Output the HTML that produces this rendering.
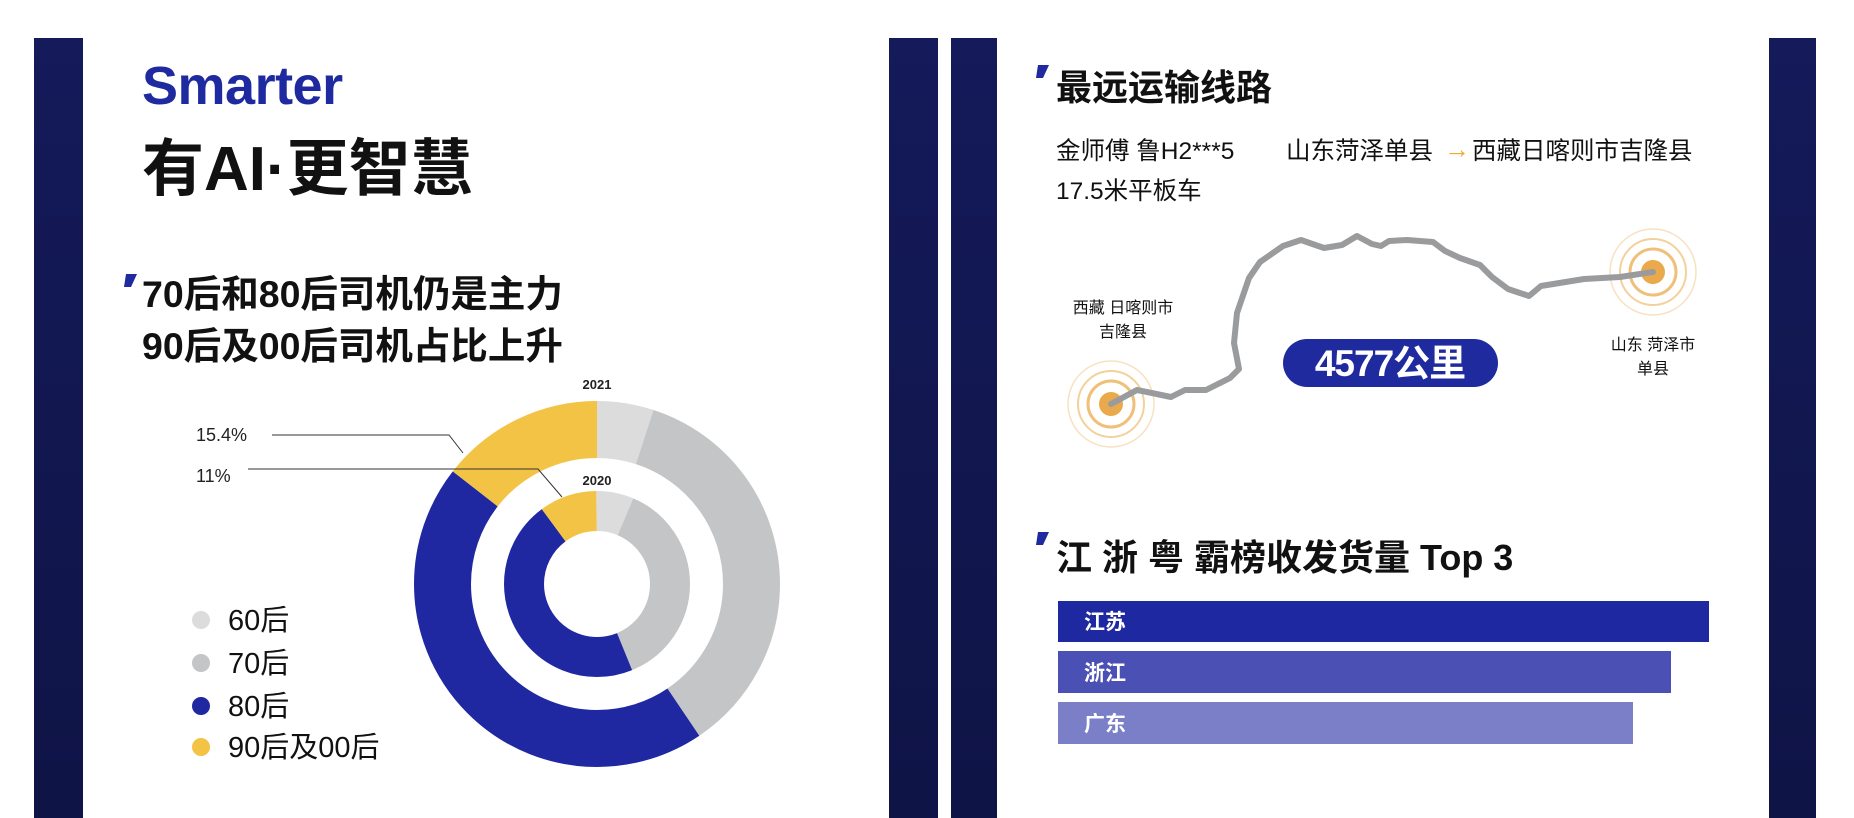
<!DOCTYPE html>
<html><head><meta charset="utf-8"><style>
html,body{margin:0;padding:0;background:#fff;}
svg{display:block}
text{font-family:"Liberation Sans","Noto Sans CJK SC",sans-serif;}
</style></head><body>
<svg width="1854" height="818" viewBox="0 0 1854 818" xmlns="http://www.w3.org/2000/svg">
<defs>
<linearGradient id="dg" x1="0" y1="0" x2="0" y2="1"><stop offset="0" stop-color="#141a5a"/><stop offset="1" stop-color="#0f1446"/></linearGradient>
</defs>
<rect width="1854" height="818" fill="#fff"/>
<rect x="34" y="38" width="49" height="780" fill="url(#dg)"/>
<rect x="889" y="38" width="49" height="780" fill="url(#dg)"/>
<rect x="951" y="38" width="46" height="780" fill="url(#dg)"/>
<rect x="1769" y="38" width="47" height="780" fill="url(#dg)"/>

<!-- left panel -->
<text x="142" y="104" font-size="54" font-weight="bold" fill="#1f2aa0" letter-spacing="-0.5">Smarter</text>
<text x="142" y="190" font-size="62" font-weight="bold" fill="#111">有AI·更智慧</text>
<polygon points="126,274 137,274 131,287 124,287" fill="#1f2aa0"/>
<text x="142" y="307" font-size="37.5" font-weight="bold" fill="#111">70后和80后司机仍是主力</text>
<text x="142" y="359" font-size="37.5" font-weight="bold" fill="#111">90后及00后司机占比上升</text>

<g transform="translate(597,584) rotate(-90)" fill="none">
<circle r="154.5" stroke="#dcdcdd" stroke-width="57" pathLength="360" stroke-dasharray="18 342" stroke-dashoffset="0"/>
<circle r="154.5" stroke="#c4c5c6" stroke-width="57" pathLength="360" stroke-dasharray="128 232" stroke-dashoffset="-18"/>
<circle r="154.5" stroke="#1f28a0" stroke-width="57" pathLength="360" stroke-dasharray="162 198" stroke-dashoffset="-146"/>
<circle r="154.5" stroke="#f2c344" stroke-width="57" pathLength="360" stroke-dasharray="52 308" stroke-dashoffset="-308"/>
<circle r="73" stroke="#dcdcdd" stroke-width="40" pathLength="360" stroke-dasharray="23 337" stroke-dashoffset="0"/>
<circle r="73" stroke="#c4c5c6" stroke-width="40" pathLength="360" stroke-dasharray="135 225" stroke-dashoffset="-23"/>
<circle r="73" stroke="#1f28a0" stroke-width="40" pathLength="360" stroke-dasharray="166 194" stroke-dashoffset="-158"/>
<circle r="73" stroke="#f2c344" stroke-width="40" pathLength="360" stroke-dasharray="36 324" stroke-dashoffset="-324"/>
</g>
<text x="597" y="389" font-size="13" font-weight="bold" fill="#222" text-anchor="middle">2021</text>
<text x="597" y="485" font-size="13" font-weight="bold" fill="#222" text-anchor="middle">2020</text>
<text x="196" y="441" font-size="18" fill="#222">15.4%</text>
<text x="196" y="482" font-size="18" fill="#222">11%</text>
<polyline points="272,435 449,435 463,453" fill="none" stroke="#333" stroke-width="1"/>
<polyline points="248,469 538,469 562,497" fill="none" stroke="#333" stroke-width="1"/>

<circle cx="201" cy="620" r="9" fill="#dcdcdd"/>
<circle cx="201" cy="663" r="9" fill="#c4c5c6"/>
<circle cx="201" cy="706" r="9" fill="#1f28a0"/>
<circle cx="201" cy="747" r="9" fill="#f2c344"/>
<g font-size="29" fill="#111">
<text x="228" y="630">60后</text>
<text x="228" y="673">70后</text>
<text x="228" y="716">80后</text>
<text x="228" y="757">90后及00后</text>
</g>

<!-- right panel -->
<polygon points="1038,65 1049,65 1043,78 1036,78" fill="#1f2aa0"/>
<text x="1056" y="100" font-size="36" font-weight="bold" fill="#111">最远运输线路</text>
<g font-size="24.5" fill="#111">
<text x="1056" y="159">金师傅 鲁H2***5</text>
<text x="1286" y="159">山东菏泽单县</text>
<text x="1472" y="159">西藏日喀则市吉隆县</text>
<text x="1056" y="199">17.5米平板车</text>
</g>
<text x="1444" y="158" font-size="26" font-weight="bold" fill="#f0a830">→</text>

<g fill="none">
<circle cx="1111" cy="404" r="43" stroke="#f7e2c0" stroke-width="1.5"/>
<circle cx="1111" cy="404" r="33" stroke="#f3d19c" stroke-width="2"/>
<circle cx="1111" cy="404" r="23" stroke="#f0c07a" stroke-width="3"/>
<circle cx="1653" cy="272" r="43" stroke="#f7e2c0" stroke-width="1.5"/>
<circle cx="1653" cy="272" r="33" stroke="#f3d19c" stroke-width="2"/>
<circle cx="1653" cy="272" r="23" stroke="#f0c07a" stroke-width="3"/>
</g>
<circle cx="1111" cy="404" r="12" fill="#eaa94a"/>
<circle cx="1653" cy="272" r="12" fill="#eaa94a"/>
<polyline fill="none" stroke="#9a9b9d" stroke-width="6" stroke-linejoin="round" stroke-linecap="round" points="1111,404 1137,390 1171,397 1185,390 1206,390 1230,378 1239,369 1234,343 1237,313 1249,278 1260,262 1283,246 1301,240 1324,248 1342,245 1357,236 1372,244 1381,246 1389,241 1407,240 1433,242 1445,251 1460,258 1480,265 1492,277 1508,289 1529,296 1541,286 1584,279 1620,277 1653,272"/>
<g font-size="16" fill="#111" text-anchor="middle">
<text x="1123" y="313">西藏 日喀则市</text>
<text x="1123" y="337">吉隆县</text>
<text x="1653" y="350">山东 菏泽市</text>
<text x="1653" y="374">单县</text>
</g>
<rect x="1283" y="339" width="215" height="48" rx="24" fill="#1e2a9e"/>
<text x="1390" y="376" font-size="37" font-weight="bold" fill="#fff" text-anchor="middle" letter-spacing="-1">4577公里</text>

<polygon points="1038,532 1049,532 1043,545 1036,545" fill="#1f2aa0"/>
<text x="1056" y="570" font-size="36" font-weight="bold" fill="#111">江 浙 粤 霸榜收发货量 Top 3</text>
<rect x="1058" y="601" width="651" height="41" fill="#1e28a0"/>
<rect x="1058" y="651" width="613" height="42" fill="#4a50b4"/>
<rect x="1058" y="702" width="575" height="42" fill="#7a7fc8"/>
<g font-size="21" font-weight="bold" fill="#fff">
<text x="1084" y="629">江苏</text>
<text x="1084" y="680">浙江</text>
<text x="1084" y="731">广东</text>
</g>
</svg>
</body></html>
